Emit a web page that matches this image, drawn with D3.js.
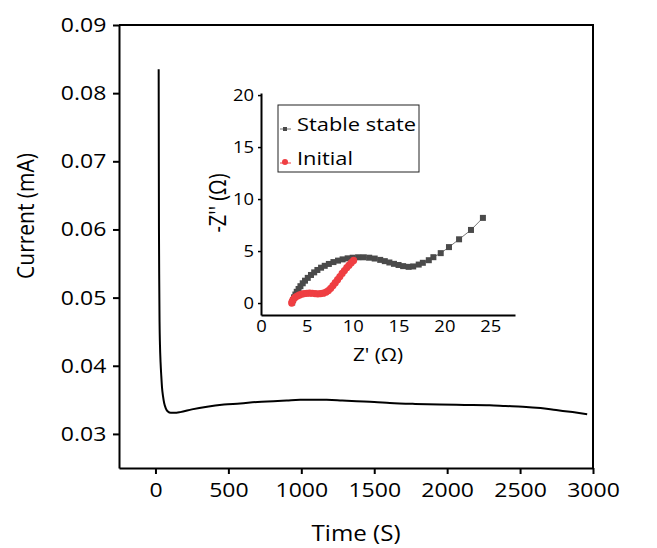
<!DOCTYPE html>
<html>
<head>
<meta charset="utf-8">
<script src="https://cdn.jsdelivr.net/npm/d3@7"></script>
<style>
  body { margin: 0; background: #fff; }
  text { font-family: "Open Sans", sans-serif; fill: #000; }
</style>
</head>
<body>
<svg id="chart" width="657" height="548"></svg>
<script>
// main curve: chronoamperometry
var timeS = [22, 23, 24, 26, 28, 31, 35, 40, 45, 52, 60, 70, 85, 105, 130, 170, 250, 354, 470, 581, 700, 809, 900, 992, 1090, 1174, 1280, 1379, 1500, 1607, 1780, 1949, 2120, 2291, 2400, 2519, 2640, 2747, 2860, 2960];
var currentMA = [0.0835, 0.070, 0.060, 0.052, 0.0465, 0.0430, 0.0405, 0.0385, 0.0368, 0.0355, 0.0345, 0.0338, 0.0333, 0.0331, 0.0331, 0.0332, 0.0336, 0.0340, 0.0343, 0.03446, 0.0347, 0.0348, 0.0349, 0.0350, 0.0350, 0.0350, 0.0349, 0.0348, 0.0347, 0.03455, 0.0344, 0.0343, 0.03425, 0.0342, 0.0341, 0.0340, 0.0338, 0.0335, 0.0332, 0.0329];

var xMajor = [0, 500, 1000, 1500, 2000, 2500, 3000];
var xMinor = [-250, 250, 750, 1250, 1750, 2250, 2750];
var yMajor = [0.03, 0.04, 0.05, 0.06, 0.07, 0.08, 0.09];
var yMinor = [0.025, 0.035, 0.045, 0.055, 0.065, 0.075, 0.085];

// inset: Nyquist plots
var stableRe = [3.4, 3.5, 3.6, 3.75, 3.9, 4.1, 4.3, 4.55, 4.8, 5.1, 5.45, 5.8, 6.15, 6.55, 6.95, 7.4, 7.9, 8.4, 8.9, 9.45, 10.0, 10.6, 11.2, 11.8, 12.4, 13.0, 13.5, 14.0, 14.5, 15.0, 15.5, 16.1, 16.6, 17.2, 17.65, 18.3, 18.8, 19.6, 20.5, 21.6, 22.9, 24.2];
var stableIm = [0.05, 0.3, 0.55, 0.82, 1.08, 1.35, 1.62, 1.9, 2.15, 2.42, 2.7, 2.95, 3.18, 3.4, 3.58, 3.76, 3.94, 4.08, 4.2, 4.3, 4.36, 4.4, 4.4, 4.36, 4.28, 4.15, 4.03, 3.9, 3.77, 3.66, 3.55, 3.48, 3.52, 3.7, 3.87, 4.12, 4.41, 4.8, 5.38, 6.13, 7.03, 8.19];
var initRe = [3.35, 3.4, 3.5, 3.65, 3.8, 4.0, 4.2, 4.45, 4.7, 5.0, 5.3, 5.6, 5.9, 6.2, 6.5, 6.8, 7.1, 7.35, 7.6, 7.85, 8.1, 8.35, 8.6, 8.85, 9.1, 9.35, 9.6, 9.85, 10.1];
var initIm = [0.0, 0.15, 0.32, 0.48, 0.6, 0.7, 0.78, 0.85, 0.9, 0.93, 0.95, 0.94, 0.91, 0.89, 0.9, 0.95, 1.05, 1.2, 1.42, 1.68, 1.96, 2.25, 2.55, 2.85, 3.13, 3.4, 3.64, 3.88, 4.1];
var insetXTicks = [0, 5, 10, 15, 20, 25];
var insetYTicks = [0, 5, 10, 15, 20];
var legendNames = ["Stable state", "Initial"];

var SX = 1.15; // horizontal stretch of the original picture's text
var svg = d3.select('#chart');
svg.append('rect').attr('width', 657).attr('height', 548).attr('fill', '#fff');

var x = d3.scaleLinear().domain([-250, 3000]).range([119, 593]);
var y = d3.scaleLinear().domain([0.025, 0.09]).range([468, 25]);

// frame (top + right)
svg.append('path')
  .attr('d', 'M' + x(-250) + ',' + y(0.09) + 'H' + x(3000) + 'V' + y(0.025))
  .attr('fill', 'none').attr('stroke', '#000').attr('stroke-width', 2);

var gx = svg.append('g').attr('transform', 'translate(0,' + y(0.025) + ')');
gx.call(d3.axisBottom(x).tickValues(xMinor).tickSize(4).tickSizeOuter(0).tickFormat(''));
gx.call(d3.axisBottom(x).tickValues(xMajor).tickSize(6).tickSizeOuter(0).tickPadding(9).tickFormat(d3.format('d')));
var gy = svg.append('g').attr('transform', 'translate(' + x(-250) + ',0)');
gy.call(d3.axisLeft(y).tickValues(yMinor).tickSize(4).tickSizeOuter(0).tickFormat(''));
gy.call(d3.axisLeft(y).tickValues(yMajor).tickSize(6).tickSizeOuter(0).tickPadding(5).tickFormat(d3.format('.2f')));

[gx, gy].forEach(function(g){
  g.selectAll('path.domain').attr('stroke-width', 2);
  g.selectAll('line').attr('stroke-width', 2);
  g.selectAll('text').attr('font-size', 20).attr('font-family', '"Open Sans", sans-serif')
    .attr('fill', '#000').attr('transform', 'scale(' + SX + ',1)');
});

svg.append('text').attr('transform', 'translate(356,541) scale(' + SX + ',1)')
  .attr('text-anchor', 'middle').attr('font-size', 21).text('Time (S)');
svg.append('text').attr('transform', 'translate(34,216) rotate(-90) scale(1,' + SX + ')')
  .attr('text-anchor', 'middle').attr('font-size', 21).text('Current (mA)');

var mainData = timeS.map(function(t, i){ return [t, currentMA[i]]; });
svg.append('path').datum(mainData)
  .attr('d', d3.line().x(function(d){ return x(d[0]); }).y(function(d){ return y(d[1]); }).curve(d3.curveMonotoneX))
  .attr('fill', 'none').attr('stroke', '#000').attr('stroke-width', 2);

// ---- inset ----
var ix = d3.scaleLinear().domain([0, 27.7]).range([261, 515]);
var iy = d3.scaleLinear().domain([-1.15, 20.2]).range([315, 93]);

var igx = svg.append('g').attr('transform', 'translate(0,' + iy(-1.15) + ')')
  .call(d3.axisBottom(ix).tickValues(insetXTicks).tickSize(0).tickSizeOuter(0).tickPadding(6));
var igy = svg.append('g').attr('transform', 'translate(' + ix(0) + ',0)')
  .call(d3.axisLeft(iy).tickValues(insetYTicks).tickSize(3).tickSizeOuter(0).tickPadding(3));
[igx, igy].forEach(function(g){
  g.selectAll('path.domain').attr('stroke-width', 2);
  g.selectAll('line').attr('stroke-width', 1.5);
  g.selectAll('text').attr('font-size', 16).attr('font-family', '"Open Sans", sans-serif')
    .attr('fill', '#000').attr('transform', 'scale(' + SX + ',1)');
});
svg.append('text').attr('transform', 'translate(378,361) scale(' + SX + ',1)')
  .attr('text-anchor', 'middle').attr('font-size', 18).text("Z' (Ω)");
svg.append('text').attr('transform', 'translate(226,203) rotate(-90) scale(1,' + SX + ')')
  .attr('text-anchor', 'middle').attr('font-size', 20).text("-Z'' (Ω)");

var stable = stableRe.map(function(r, i){ return [r, stableIm[i]]; });
var initial = initRe.map(function(r, i){ return [r, initIm[i]]; });
var iline = d3.line().x(function(d){ return ix(d[0]); }).y(function(d){ return iy(d[1]); });

svg.append('path').datum(stable).attr('d', iline)
  .attr('fill', 'none').attr('stroke', '#777').attr('stroke-width', 1);
svg.selectAll('rect.stable').data(stable).enter().append('rect')
  .attr('class', 'stable')
  .attr('x', function(d){ return ix(d[0]) - 3; })
  .attr('y', function(d){ return iy(d[1]) - 3; })
  .attr('width', 6).attr('height', 6).attr('fill', '#4a4a4a');

svg.append('path').datum(initial).attr('d', iline)
  .attr('fill', 'none').attr('stroke', '#ef3e42').attr('stroke-width', 1);
svg.selectAll('circle.initial').data(initial).enter().append('circle')
  .attr('class', 'initial')
  .attr('cx', function(d){ return ix(d[0]); })
  .attr('cy', function(d){ return iy(d[1]); })
  .attr('r', 3.6).attr('fill', '#ef3e42');

// legend
var lg = svg.append('g').attr('transform', 'translate(278,105)');
lg.append('rect').attr('width', 141).attr('height', 67)
  .attr('fill', '#fff').attr('stroke', '#222').attr('stroke-width', 1);
var items = lg.selectAll('g.item').data(legendNames).enter().append('g')
  .attr('class', 'item').attr('transform', function(d, i){ return 'translate(0,' + (24 + i * 34) + ')'; });
items.append('line').attr('x1', 2).attr('x2', 13).attr('y1', 0).attr('y2', 0)
  .attr('stroke', function(d, i){ return i ? '#ef3e42' : '#777'; }).attr('stroke-width', 1);
items.filter(function(d, i){ return i === 0; }).append('rect')
  .attr('x', 5).attr('y', -2).attr('width', 4).attr('height', 4).attr('fill', '#4a4a4a');
items.filter(function(d, i){ return i === 1; }).append('circle')
  .attr('cx', 7).attr('cy', -1).attr('r', 3).attr('fill', '#ef3e42');
items.append('text').attr('transform', 'translate(19,2) scale(' + SX + ',1)')
  .attr('font-size', 19).text(function(d){ return d; });
</script>
</body>
</html>
